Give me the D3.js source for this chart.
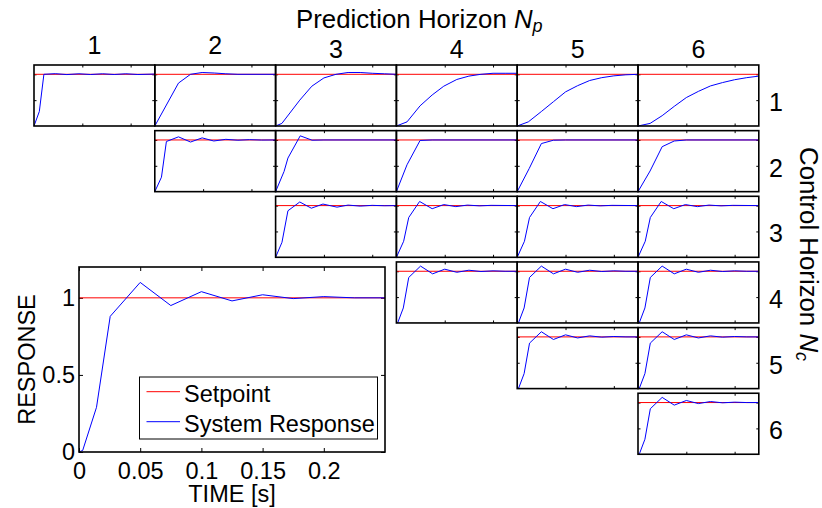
<!DOCTYPE html>
<html>

<head>
    <meta charset="utf-8">
    <title>MPC step responses by horizon</title>
    <script type="text/javascript" src="https://d3js.org/d3.v7.min.js"></script>
    <style>
        body {
            margin: 0;
            background: #fff;
        }

        svg {
            display: block;
        }
    </style>
</head>

<body>
</body>

<script type="text/javascript">
    var w = 822;
    var h = 508;
    var font = "'Liberation Sans', Arial, Helvetica, sans-serif";

    // horizons shown along columns (Np) and rows (Nc)
    var horizons = [1, 2, 3, 4, 5, 6];
    var setpoint = 1;

    // tick values
    var xTicksSmall = [0.1, 0.2];
    var yTicksSmall = [0.5, 1];
    var xTicksBig = [0, 0.05, 0.1, 0.15, 0.2];
    var yTicksBig = [0, 0.5, 1];

    // step responses, [time (s), response]
    // row Nc = 1
    var resp_1_1 = [[0, 0], [0.011, 0.28], [0.0205, 1.0], [0.044, 1.012], [0.068, 0.995], [0.093, 1.01], [0.117, 0.996], [0.142, 1.01], [0.166, 0.996], [0.19, 1.01], [0.215, 0.996], [0.25, 1.005]];
    var resp_1_2 = [[0, 0], [0.049, 0.83], [0.074, 1.0], [0.098, 1.035], [0.123, 1.025], [0.147, 1.01], [0.172, 1.0], [0.25, 1.0]];
    var resp_1_3 = [[0, 0], [0.013, 0.05], [0.05, 0.5], [0.075, 0.77], [0.1, 0.93], [0.125, 1.0], [0.15, 1.035], [0.175, 1.035], [0.2, 1.02], [0.225, 1.01], [0.25, 1.0]];
    var resp_1_4 = [[0, 0], [0.022, 0.08], [0.049, 0.39], [0.074, 0.6], [0.098, 0.77], [0.125, 0.9], [0.15, 0.965], [0.175, 1.0], [0.2, 1.02], [0.225, 1.02], [0.25, 1.02]];
    var resp_1_5 = [[0, 0], [0.023, 0.08], [0.05, 0.28], [0.075, 0.47], [0.1, 0.66], [0.125, 0.78], [0.15, 0.88], [0.175, 0.935], [0.2, 0.97], [0.225, 0.99], [0.25, 1.0]];
    var resp_1_6 = [[0, 0], [0.025, 0.05], [0.05, 0.2], [0.075, 0.38], [0.1, 0.55], [0.125, 0.67], [0.15, 0.775], [0.175, 0.84], [0.2, 0.895], [0.225, 0.935], [0.25, 0.965]];
    // row Nc = 2
    var resp_2_2 = [[0, 0], [0.0138, 0.28], [0.024, 0.97], [0.049, 1.06], [0.074, 0.96], [0.098, 1.04], [0.122, 0.98], [0.147, 1.012], [0.172, 0.995], [0.196, 1.006], [0.221, 0.998], [0.25, 1.0]];
    var resp_2_3 = [[0, 0], [0.0175, 0.39], [0.0255, 0.65], [0.051, 1.08], [0.0755, 0.995], [0.1, 1.0], [0.25, 1.0]];
    var resp_2_4 = [[0, 0], [0.022, 0.52], [0.049, 0.99], [0.074, 1.0], [0.25, 1.0]];
    var resp_2_5 = [[0, 0], [0.025, 0.45], [0.05, 0.93], [0.075, 0.995], [0.1, 1.0], [0.25, 1.0]];
    var resp_2_6 = [[0, 0], [0.025, 0.4], [0.05, 0.87], [0.075, 0.98], [0.1, 1.0], [0.25, 1.0]];
    // row Nc = 3
    var resp_3_3 = [[0, 0], [0.0132, 0.29], [0.0255, 0.9], [0.05, 1.07], [0.074, 0.95], [0.098, 1.03], [0.127, 0.97], [0.15, 1.01], [0.175, 0.99], [0.2, 1.005], [0.225, 0.997], [0.25, 1.0]];
    var resp_3_n = [[0, 0], [0.015, 0.31], [0.0255, 0.77], [0.048, 1.08], [0.074, 0.94], [0.098, 1.02], [0.123, 0.98], [0.147, 1.01], [0.172, 0.995], [0.196, 1.005], [0.25, 1.0]];
    // rows Nc = 4..6 and the enlarged plot
    var resp_full = [[0, 0], [0.003, 0.01], [0.0143, 0.29], [0.0255, 0.88], [0.05, 1.1], [0.075, 0.95], [0.1, 1.04], [0.125, 0.98], [0.15, 1.02], [0.175, 0.995], [0.2, 1.008], [0.225, 1.0], [0.25, 1.0]];

    // [Np, Nc, response]
    var panels = [
        [1, 1, resp_1_1], [2, 1, resp_1_2], [3, 1, resp_1_3], [4, 1, resp_1_4], [5, 1, resp_1_5], [6, 1, resp_1_6],
        [2, 2, resp_2_2], [3, 2, resp_2_3], [4, 2, resp_2_4], [5, 2, resp_2_5], [6, 2, resp_2_6],
        [3, 3, resp_3_3], [4, 3, resp_3_n], [5, 3, resp_3_n], [6, 3, resp_3_n],
        [4, 4, resp_full], [5, 4, resp_full], [6, 4, resp_full],
        [5, 5, resp_full], [6, 5, resp_full],
        [6, 6, resp_full]
    ];

    // layout of the grid
    var gridLeft = 34;
    var gridTop = 65;
    var cellW = 120.8;
    var cellH = 61;
    var rowStep = 65.65;
    var colLabelBase = [54, 54, 57.5, 57.5, 57.5, 57.5];

    var svg = d3.select("body").append("svg").attr("width", w).attr("height", h)
        .attr("font-family", font);

    var line = function(x, y) {
        return d3.line()
            .x(function(d) { return x(d[0]); })
            .y(function(d) { return y(d[1]); });
    };

    // ticks pointing inward on all four sides, like a boxed matlab axes
    function drawBox(g, x, y, tick, xt, yt, withLabels) {
        var W = x.range()[1], H = y.range()[0];
        var fmt = d3.format("~g");

        var bottom = g.append("g").attr("transform", "translate(0," + H + ")")
            .call(d3.axisBottom(x).tickValues(xt).tickSize(-tick).tickPadding(10.5)
                .tickFormat(withLabels ? fmt : ""));
        var left = g.append("g")
            .call(d3.axisLeft(y).tickValues(yt).tickSize(-tick).tickPadding(4)
                .tickFormat(withLabels ? fmt : ""));
        g.append("g").call(d3.axisTop(x).tickValues(xt).tickSize(-tick).tickFormat(""));
        g.append("g").attr("transform", "translate(" + W + ",0)")
            .call(d3.axisRight(y).tickValues(yt).tickSize(-tick).tickFormat(""));

        g.selectAll(".domain").remove();
        g.selectAll(".tick line").attr("stroke", "#000").attr("stroke-width", 1);
        [bottom, left].forEach(function(a) {
            a.attr("font-size", 23.5).attr("font-family", font);
            a.selectAll("text").attr("fill", "#000");
        });
    }

    function drawBorder(g, W, H) {
        g.append("rect")
            .attr("width", W)
            .attr("height", H)
            .attr("fill", "none")
            .attr("stroke", "#000")
            .attr("stroke-width", 1.6);
    }

    // small panels
    var xSmall = d3.scaleLinear().domain([0, 0.25]).range([0, cellW]);
    var ySmall = d3.scaleLinear().domain([0, 1.18]).range([cellH, 0]);

    panels.forEach(function(p) {
        var g = svg.append("g")
            .attr("transform", "translate(" + (gridLeft + (p[0] - 1) * cellW) + "," + (gridTop + (p[1] - 1) * rowStep) + ")");

        drawBox(g, xSmall, ySmall, 2.5, xTicksSmall, yTicksSmall, false);

        g.append("line")
            .attr("x1", xSmall(0)).attr("x2", xSmall(0.25))
            .attr("y1", ySmall(setpoint)).attr("y2", ySmall(setpoint))
            .attr("stroke", "#ff0000").attr("stroke-width", 1);

        g.append("path")
            .datum(p[2])
            .attr("d", line(xSmall, ySmall))
            .attr("fill", "none")
            .attr("stroke", "#0000ff")
            .attr("stroke-width", 1);

        drawBorder(g, cellW, cellH);
    });

    // column and row labels
    svg.selectAll(".colLabel")
        .data(horizons)
        .enter()
        .append("text")
        .attr("class", "colLabel")
        .attr("x", function(d) { return gridLeft + (d - 0.5) * cellW; })
        .attr("y", function(d, i) { return colLabelBase[i]; })
        .attr("text-anchor", "middle")
        .attr("font-size", 25)
        .text(function(d) { return d; });

    svg.selectAll(".rowLabel")
        .data(horizons)
        .enter()
        .append("text")
        .attr("class", "rowLabel")
        .attr("x", 776)
        .attr("y", function(d) { return gridTop + (d - 1) * rowStep + 46; })
        .attr("text-anchor", "middle")
        .attr("font-size", 25)
        .text(function(d) { return d; });

    var title = svg.append("text")
        .attr("x", 296)
        .attr("y", 28.3)
        .attr("font-size", 25.8);
    title.append("tspan").text("Prediction Horizon ");
    title.append("tspan").attr("font-style", "italic").text("N");
    title.append("tspan").attr("font-size", 18).attr("font-style", "italic").attr("dy", 4).text("p");

    var side = svg.append("text")
        .attr("transform", "translate(800,147) rotate(90)")
        .attr("font-size", 25.8);
    side.append("tspan").text("Control Horizon ");
    side.append("tspan").attr("font-style", "italic").text("N");
    side.append("tspan").attr("font-size", 18).attr("font-style", "italic").attr("dy", 4).text("c");

    // enlarged plot
    var bigLeft = 79, bigTop = 267, bigW = 306, bigH = 185;
    var xBig = d3.scaleLinear().domain([0, 0.25]).range([0, bigW]);
    var yBig = d3.scaleLinear().domain([0, 1.2]).range([bigH, 0]);

    var big = svg.append("g").attr("transform", "translate(" + bigLeft + "," + bigTop + ")");

    drawBox(big, xBig, yBig, 4, xTicksBig, yTicksBig, true);

    big.append("line")
        .attr("x1", xBig(0)).attr("x2", xBig(0.25))
        .attr("y1", yBig(setpoint)).attr("y2", yBig(setpoint))
        .attr("stroke", "#ff0000").attr("stroke-width", 1);

    big.append("path")
        .datum(resp_full)
        .attr("d", line(xBig, yBig))
        .attr("fill", "none")
        .attr("stroke", "#0000ff")
        .attr("stroke-width", 1);

    drawBorder(big, bigW, bigH);

    svg.append("text")
        .attr("x", bigLeft + bigW / 2)
        .attr("y", 501.5)
        .attr("text-anchor", "middle")
        .attr("font-size", 23.5)
        .text("TIME [s]");

    svg.append("text")
        .attr("transform", "translate(35," + (bigTop + bigH / 2) + ") rotate(-90)")
        .attr("text-anchor", "middle")
        .attr("font-size", 23.5)
        .text("RESPONSE");

    // legend
    var legend = svg.append("g").attr("transform", "translate(139.5,377)");
    legend.append("rect")
        .attr("width", 238)
        .attr("height", 62)
        .attr("fill", "#fff")
        .attr("stroke", "#000")
        .attr("stroke-width", 1);

    var legendItems = [["Setpoint", "#ff0000"], ["System Response", "#0000ff"]];
    legendItems.forEach(function(d, i) {
        legend.append("line")
            .attr("x1", 7).attr("x2", 40.5)
            .attr("y1", 14.7 + i * 30).attr("y2", 14.7 + i * 30)
            .attr("stroke", d[1]).attr("stroke-width", 1);
        legend.append("text")
            .attr("x", 44.5)
            .attr("y", 24.7 + i * 30)
            .attr("font-size", 23.5)
            .text(d[0]);
    });
</script>

</html>
